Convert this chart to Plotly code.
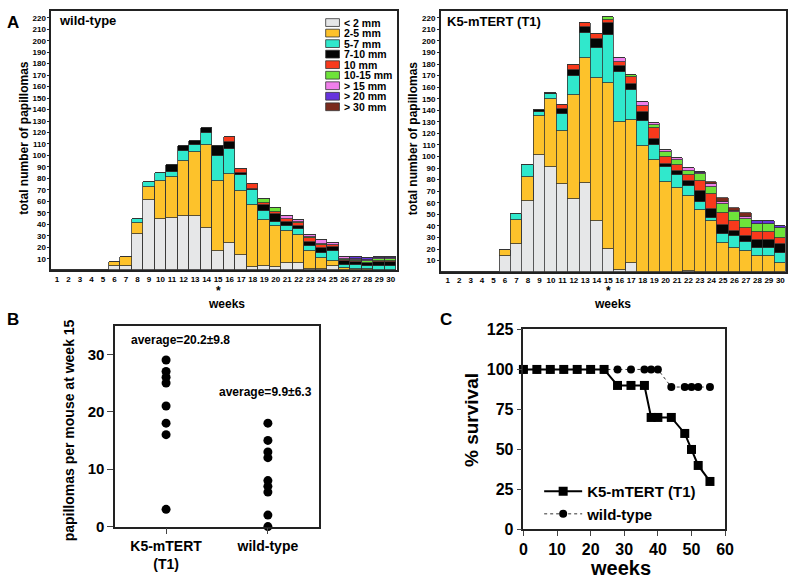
import plotly.graph_objects as go

FONT = "Liberation Sans, Arial, Helvetica, sans-serif"

# ---- panel A: papillomas per week, stacked by size class ----
WEEKS = list(range(1, 31))
SIZE_CLASSES = ["< 2 mm", "2-5 mm", "5-7 mm", "7-10 mm", "10 mm",
                "10-15 mm", "> 15 mm", "> 20 mm", "> 30 mm"]
SIZE_COLORS = ["#E6E7E8", "#FDC22B", "#30E8CC", "#050505", "#F8391C",
               "#6EE33A", "#F07FEA", "#6633DD", "#7A2A1C"]
A_YTICKS = list(range(10, 221, 10))

# wild-type, week 1..30
WT_LT2 = [0, 0, 0, 0, 0, 4, 4, 32, 61, 45, 46, 47, 47, 37, 17, 24, 13, 3, 4, 3, 6, 6, 1, 1, 4, 0, 0, 0, 0, 0]
WT_2_5 = [0, 0, 0, 0, 0, 3, 8, 9, 12, 33, 35, 48, 56, 72, 61, 60, 56, 54, 40, 36, 28, 25, 16, 10, 4, 2, 1, 1, 0, 0]
WT_5_7 = [0, 0, 0, 0, 0, 0, 0, 4, 4, 7, 5, 9, 6, 11, 22, 22, 14, 13, 8, 3, 5, 5, 4, 4, 9, 3, 4, 3, 4, 4]
WT_7_10 = [0, 0, 0, 0, 0, 0, 0, 0, 0, 0, 6, 4, 4, 4, 8, 6, 2, 1, 5, 7, 3, 3, 4, 4, 3, 3, 2, 2, 3, 3]
WT_10 = [0, 0, 0, 0, 0, 0, 0, 0, 0, 0, 0, 0, 0, 0, 0, 4, 3, 4, 2, 2, 3, 2, 3, 3, 2, 1, 1, 0, 1, 1]
WT_10_15 = [0, 0, 0, 0, 0, 0, 0, 0, 0, 0, 0, 0, 0, 0, 0, 0, 0, 0, 3, 3, 0, 1, 1, 1, 0, 1, 1, 2, 2, 2]
WT_GT15 = [0, 0, 0, 0, 0, 0, 0, 0, 0, 0, 0, 0, 0, 0, 0, 0, 0, 0, 0, 0, 2, 2, 2, 3, 2, 2, 1, 1, 1, 1]
WT_GT20 = [0, 0, 0, 0, 0, 0, 0, 0, 0, 0, 0, 0, 0, 0, 0, 0, 0, 0, 0, 0, 0, 0, 0, 0, 0, 0, 2, 2, 1, 1]
WT_GT30 = [0, 0, 0, 0, 0, 0, 0, 0, 0, 0, 0, 0, 0, 0, 0, 0, 0, 0, 0, 0, 0, 0, 0, 0, 0, 0, 0, 0, 0, 0]

# K5-mTERT (T1), week 1..30
K5_LT2 = [0, 0, 0, 0, 0, 14, 24, 62, 101, 91, 76, 63, 77, 44, 20, 2, 8, 0, 0, 0, 0, 1, 0, 0, 0, 0, 0, 0, 0, 0]
K5_2_5 = [0, 0, 0, 0, 0, 5, 21, 20, 34, 59, 46, 90, 108, 124, 144, 128, 124, 109, 97, 78, 73, 65, 54, 44, 25, 21, 18, 14, 14, 8]
K5_5_7 = [0, 0, 0, 0, 0, 0, 5, 11, 4, 4, 15, 17, 22, 26, 41, 43, 26, 22, 13, 13, 11, 9, 7, 3, 8, 10, 8, 7, 7, 9]
K5_7_10 = [0, 0, 0, 0, 0, 0, 0, 0, 1, 1, 4, 5, 5, 8, 11, 5, 5, 8, 5, 3, 4, 4, 9, 8, 8, 5, 5, 7, 7, 7]
K5_10 = [0, 0, 0, 0, 0, 0, 0, 0, 0, 0, 4, 4, 4, 4, 2, 4, 6, 5, 10, 6, 5, 5, 9, 13, 10, 8, 7, 7, 7, 6]
K5_10_15 = [0, 0, 0, 0, 0, 0, 0, 0, 0, 0, 0, 0, 0, 0, 3, 0, 2, 0, 2, 4, 4, 4, 6, 6, 8, 8, 8, 7, 7, 8]
K5_GT15 = [0, 0, 0, 0, 0, 0, 0, 0, 0, 0, 0, 0, 0, 0, 0, 3, 0, 3, 2, 2, 2, 2, 1, 2, 2, 1, 2, 0, 0, 0]
K5_GT20 = [0, 0, 0, 0, 0, 0, 0, 0, 0, 0, 0, 0, 0, 0, 0, 0, 0, 0, 0, 0, 0, 0, 1, 0, 0, 0, 0, 2, 2, 2]
K5_GT30 = [0, 0, 0, 0, 0, 0, 0, 0, 0, 0, 0, 0, 0, 0, 0, 0, 0, 0, 0, 0, 0, 0, 0, 2, 3, 3, 3, 0, 0, 0]

WT_SIZES = [WT_LT2, WT_2_5, WT_5_7, WT_7_10, WT_10, WT_10_15, WT_GT15, WT_GT20, WT_GT30]
K5_SIZES = [K5_LT2, K5_2_5, K5_5_7, K5_7_10, K5_10, K5_10_15, K5_GT15, K5_GT20, K5_GT30]

# ---- panel B: papillomas per mouse at week 15 ----
B_GROUPS = ["K5-mTERT<br>(T1)", "wild-type"]
B_K5 = [29, 27, 26, 25, 21, 18, 16, 3]
B_WT = [18, 15, 13, 12, 8, 7, 6, 2, 0]
B_AVG = ["average=20.2±9.8", "average=9.9±6.3"]

# ---- panel C: survival ----
SURV_K5_WEEKS = [0, 4, 8, 12, 16, 20, 24, 28, 32, 36, 38, 40, 44, 48, 50, 52, 55.5]
SURV_K5 = [100, 100, 100, 100, 100, 100, 100, 90, 90, 90, 70, 70, 70, 60, 50, 40, 30]
SURV_WT_WEEKS = [0, 4, 8, 12, 16, 20, 24, 28, 32, 36, 38, 40, 44, 48, 50, 52, 55.5]
SURV_WT = [100, 100, 100, 100, 100, 100, 100, 100, 100, 100, 100, 100, 89, 89, 89, 89, 89]


def px(x):
    return x / 800


def py(y):
    return 1 - y / 588


def bold(size):
    return dict(family=FONT, size=size, color="black", weight="bold")


fig = go.Figure()

for sizes, xa, ya in [(WT_SIZES, "x", "y"), (K5_SIZES, "x2", "y2")]:
    for name, col, vals in zip(SIZE_CLASSES, SIZE_COLORS, sizes):
        fig.add_trace(go.Bar(
            x=WEEKS, y=vals, name=name, xaxis=xa, yaxis=ya,
            marker=dict(color=col, line=dict(color="#333333", width=0.8)),
            showlegend=False,
        ))

fig.add_trace(go.Scatter(
    x=[B_GROUPS[0]] * len(B_K5), y=B_K5, mode="markers", xaxis="x3", yaxis="y3",
    marker=dict(color="black", size=9), showlegend=False, cliponaxis=False,
))
fig.add_trace(go.Scatter(
    x=[B_GROUPS[1]] * len(B_WT), y=B_WT, mode="markers", xaxis="x3", yaxis="y3",
    marker=dict(color="black", size=9), showlegend=False, cliponaxis=False,
))

fig.add_trace(go.Scatter(
    x=SURV_WT_WEEKS, y=SURV_WT, mode="lines+markers", name="wild-type",
    xaxis="x4", yaxis="y4", legendrank=2, cliponaxis=False,
    line=dict(color="#333333", width=1, dash="dot"),
    marker=dict(symbol="circle", size=8, color="black"),
))
fig.add_trace(go.Scatter(
    x=SURV_K5_WEEKS, y=SURV_K5, mode="lines+markers", name="K5-mTERT (T1)",
    xaxis="x4", yaxis="y4", legendrank=1, cliponaxis=False,
    line=dict(color="black", width=2),
    marker=dict(symbol="square", size=9, color="black"),
))

frame = dict(showline=True, mirror=True, linecolor="#222222", linewidth=1.5,
             showgrid=False, zeroline=False)

a_x = dict(frame, range=[0.5, 30.5], tickvals=WEEKS, ticks="", tickfont=bold(8))
a_y = dict(frame, range=[0, 226], tickvals=A_YTICKS, ticks="outside", ticklen=2,
           tickcolor="#222222", tickfont=bold(8))

fig.update_layout(
    width=800, height=588,
    margin=dict(l=0, r=0, t=0, b=0),
    paper_bgcolor="white", plot_bgcolor="white",
    barmode="stack", bargap=0,
    font=dict(family=FONT, color="black"),
    xaxis=dict(a_x, domain=[px(48), px(399)], anchor="y"),
    yaxis=dict(a_y, domain=[py(270), py(3)], anchor="x"),
    xaxis2=dict(a_x, range=[0.4, 30.5], domain=[px(444), px(795)], anchor="y2"),
    yaxis2=dict(a_y, domain=[py(272), py(3)], anchor="x2"),
    xaxis3=dict(frame, type="category", categoryarray=B_GROUPS, range=[-0.5, 1.5],
                domain=[px(113), px(320)], anchor="y3", ticks="outside", ticklen=6,
                tickfont=bold(14)),
    yaxis3=dict(frame, range=[0, 35], tickvals=[0, 10, 20, 30], ticks="outside",
                ticklen=6, domain=[py(534), py(327)], anchor="x3", tickfont=bold(15)),
    xaxis4=dict(frame, range=[0, 60], dtick=10, ticks="outside", ticklen=5,
                domain=[px(528), px(733)], anchor="y4", tickfont=bold(16)),
    yaxis4=dict(frame, range=[0, 125], dtick=25, ticks="outside", ticklen=5,
                domain=[py(537), py(331)], anchor="x4", tickfont=bold(16)),
    legend=dict(x=px(544), y=py(481), xanchor="left", yanchor="top",
                traceorder="normal", bgcolor="rgba(0,0,0,0)", font=bold(15),
                itemwidth=38),
)

ann = []
# panel letters
for letter, x, y in [("A", 9, 15), ("B", 9, 321), ("C", 449, 321)]:
    ann.append(dict(text=letter, x=px(x), y=py(y), font=bold(17)))
# panel A titles
ann.append(dict(text="wild-type", x=px(54), y=py(13), xanchor="left", font=bold(13)))
ann.append(dict(text="K5-mTERT (T1)", x=px(448), y=py(14), xanchor="left", font=bold(13)))
for x in (20, 416):
    ann.append(dict(text="total number of papillomas", x=px(x), y=py(134),
                    textangle=-90, font=bold(12)))
for x in (226, 619):
    ann.append(dict(text="weeks", x=px(x), y=py(305), font=bold(12)))
for xa in ("x", "x2"):
    ann.append(dict(text="*", x=15, xref=xa, y=py(291), font=bold(12)))
# manual size-class legend inside wild-type panel
shapes = []
for i, (name, col) in enumerate(zip(SIZE_CLASSES, SIZE_COLORS)):
    yc = 15 + 10.84 * i
    shapes.append(dict(type="rect", xref="paper", yref="paper",
                       x0=px(327), x1=px(341), y0=py(yc + 4), y1=py(yc - 4),
                       fillcolor=col, line=dict(color="#333333", width=0.8)))
    ann.append(dict(text=name, x=px(344), y=py(yc), xanchor="left", font=bold(10.5)))
# panel B
ann.append(dict(text="papillomas per mouse at week 15", x=px(66), y=py(435),
                textangle=-90, font=bold(14)))
ann.append(dict(text=B_AVG[0], x=0.14, y=32.5, xref="x3", yref="y3", font=bold(12)))
ann.append(dict(text=B_AVG[1], x=0.98, y=23.5, xref="x3", yref="y3", font=bold(12)))
# panel C
ann.append(dict(text="% survival", x=px(475), y=py(424), textangle=-90, font=bold(19)))
ann.append(dict(text="weeks", x=px(627), y=py(577), font=bold(20)))

for a in ann:
    a.setdefault("xref", "paper")
    a.setdefault("yref", "paper")
    a.setdefault("xanchor", "center")
    a.setdefault("yanchor", "middle")
    a["showarrow"] = False
fig.update_layout(annotations=ann, shapes=shapes)

# drop the default page margin so the 800x588 figure fills the window
fig.write_html("out.html", config={"displayModeBar": False},
               post_script="document.body.style.margin='0px';")
